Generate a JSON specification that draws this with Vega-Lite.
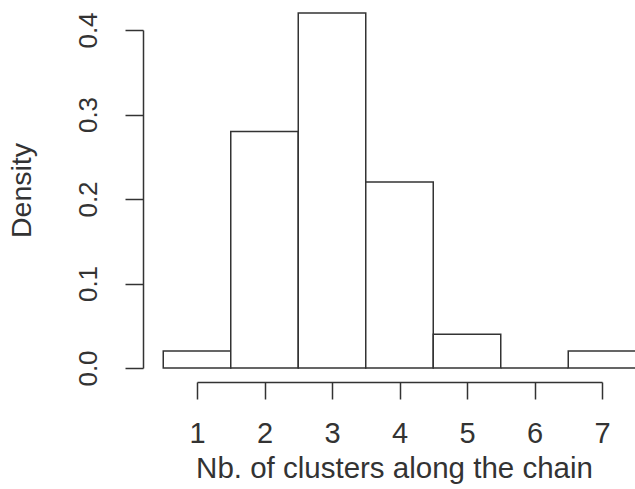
{
  "$schema": "https://vega.github.io/schema/vega-lite/v6.json",
  "autosize": {"type": "none"},
  "width": 405,
  "height": 338,
  "padding": {"left": 197, "top": 30, "right": 33, "bottom": 121},
  "background": "white",
  "config": {
    "view": {"stroke": null},
    "font": "Liberation Sans",
    "axis": {"grid": false, "domainColor": "#333", "tickColor": "#333", "labelColor": "#333", "titleColor": "#333", "domainWidth": 1.5, "tickWidth": 1.5, "titleFontWeight": "normal", "tickSize": 17}
  },
  "data": {"values": [
    {"start": 0.5, "end": 1.5, "density": 0.02},
    {"start": 1.5, "end": 2.5, "density": 0.28},
    {"start": 2.5, "end": 3.5, "density": 0.42},
    {"start": 3.5, "end": 4.5, "density": 0.22},
    {"start": 4.5, "end": 5.5, "density": 0.04},
    {"start": 5.5, "end": 6.5, "density": 0.0},
    {"start": 6.5, "end": 7.5, "density": 0.02}
  ]},
  "mark": {"type": "rect", "fill": "white", "stroke": "#333", "strokeWidth": 1.5},
  "encoding": {
    "x": {"field": "start", "type": "quantitative",
      "scale": {"domain": [1, 7], "nice": false, "zero": false},
      "axis": {"values": [1, 2, 3, 4, 5, 6, 7], "offset": 14, "labelFontSize": 29, "labelPadding": 20, "title": "Nb. of clusters along the chain", "titleFontSize": 29.5, "titlePadding": 6, "titleX": 197, "titleAlign": "center", "labelFlush": false}},
    "x2": {"field": "end"},
    "y": {"field": "density", "type": "quantitative",
      "scale": {"domain": [0, 0.4], "nice": false},
      "axis": {"values": [0, 0.1, 0.2, 0.3, 0.4], "format": ".1f", "offset": 54, "tickSize": 18, "labelFontSize": 26, "labelAngle": -90, "labelAlign": "center", "labelBaseline": "bottom", "labelPadding": 24, "title": "Density", "titleFontSize": 28.5, "titlePadding": 39, "titleY": 160, "labelFlush": false}},
    "y2": {"datum": 0}
  }
}
